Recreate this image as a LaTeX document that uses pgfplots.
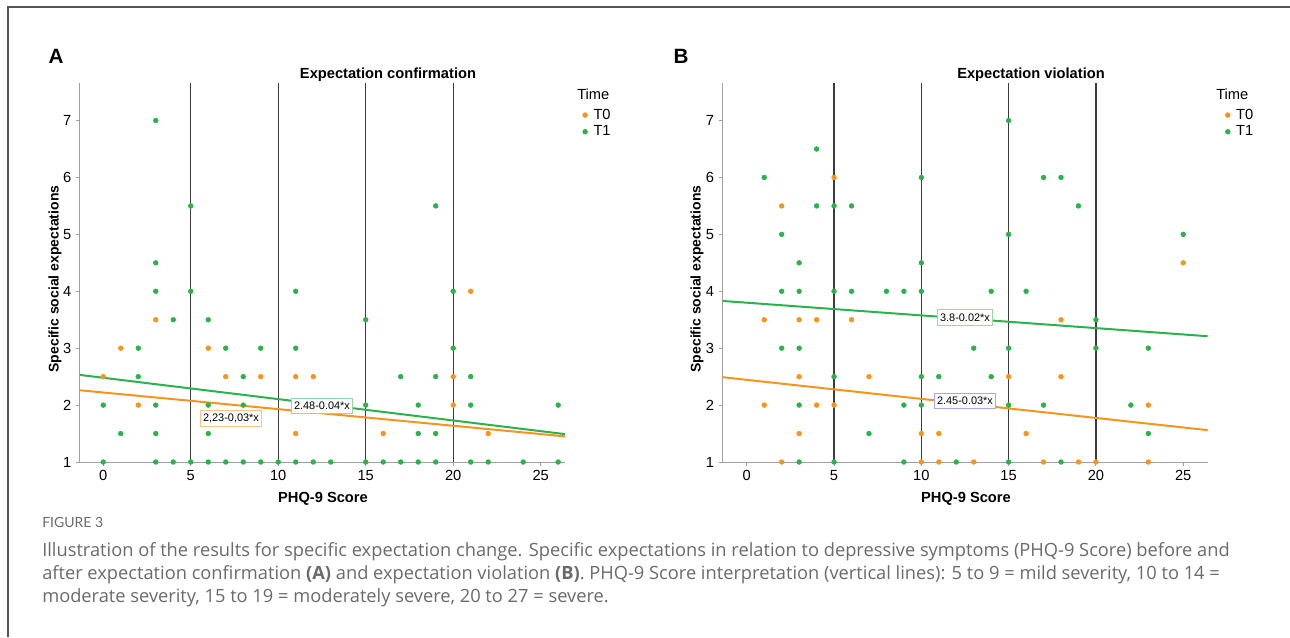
\documentclass[border=0pt]{standalone}
\usepackage{fontspec}
\setmainfont{Liberation Sans}
\newfontfamily\capfont{Open Sans}
\newfontfamily\figfont{Lato}
\usepackage{pgfplots}
\usepackage{pgfplotstable}
\pgfplotsset{compat=1.18}
\definecolor{spssorange}{HTML}{F7941D}
\definecolor{spssgreen}{HTML}{2BB24C}
\definecolor{axgray}{HTML}{A0A0A0}
\definecolor{refline}{HTML}{3C3C3C}
\definecolor{capgray}{HTML}{6A6A6A}
\definecolor{frame}{HTML}{555555}

% panel A: expectation confirmation
\pgfplotstableread{
x y
0 2.5
1 3
2 2
3 3.5
6 3
7 2.5
9 2.5
11 2.5
11 1.5
12 2.5
16 1.5
20 2.5
20 2
21 4
22 1.5
}\confzero
\pgfplotstableread{
x y
0 2
0 1
1 1.5
2 3
2 2.5
3 7
3 4.5
3 4
3 2
3 1.5
3 1
4 3.5
4 1
5 5.5
5 4
5 1
6 3.5
6 2
6 1.5
6 1
7 3
7 1
8 2.5
8 2
8 1
9 3
9 1
10 1
11 4
11 3
11 1
12 1
13 1
15 3.5
15 2
15 1
16 1
17 2.5
17 1
18 2
18 1.5
18 1
19 5.5
19 2.5
19 1.5
19 1
20 4
20 3
21 2.5
21 2
21 1
22 1
24 1
26 2
26 1
}\confone
% panel B: expectation violation
\pgfplotstableread{
x y
1 3.5
1 2
2 5.5
2 1
3 3.5
3 2.5
3 1.5
4 3.5
4 2
5 6
5 2
6 3.5
7 2.5
10 1.5
10 1
11 1.5
11 1
13 1
15 2.5
16 1.5
17 1
18 3.5
18 2.5
19 1
20 1
23 2
23 1
25 4.5
}\violzero
\pgfplotstableread{
x y
1 6
2 5
2 4
2 3
3 4.5
3 4
3 3
3 2
3 1
4 6.5
4 5.5
5 5.5
5 4
5 2.5
5 1
6 5.5
6 4
7 1.5
8 4
9 4
9 2
9 1
10 6
10 4.5
10 4
10 2.5
10 2
11 2.5
12 1
13 3
14 4
14 2.5
15 7
15 5
15 3
15 2
15 1
16 4
17 6
17 2
18 6
18 1
19 5.5
20 3.5
20 3
22 2
23 3
23 1.5
25 5
}\violone

\pgfplotsset{
  panel/.style={
    scale only axis, width=363.75pt, height=284.25pt,
    ymin=1, ymax=7.66,
    axis x line*=bottom, axis y line*=left,
    axis line style={draw=axgray, line width=0.75pt},
    xtick={0,5,...,25}, ytick={1,...,7},
    tick align=outside, major tick length=3pt,
    tick style={draw=axgray, line width=0.75pt},
    tick label style={font=\fontsize{11}{13}\selectfont},
    /pgf/number format/assume math mode=true,
    clip=false,
    legend cell align=left,
    legend style={draw=none, fill=none, inner sep=0pt, anchor=north west,
      font=\fontsize{11}{13}\selectfont, row sep=2.4pt, column sep=4pt,
      nodes={inner xsep=0.5pt, inner ysep=0.5pt}},
  },
  dots/.style={only marks, mark=*, mark size=1.8pt, color=#1,
    mark options={draw=#1, fill=#1},
    legend image code/.code={\draw[##1] plot coordinates {(0pt,0pt)};}},
  vline/.style={refline, line width=0.9pt, forget plot},
  fit/.style={#1, line width=1.5pt, forget plot},
}
\tikzset{
  eq/.style={draw=#1, fill=white, line width=0.6pt, inner xsep=2pt, inner ysep=2.8pt,
    font=\fontsize{8.2}{9}\selectfont},
}

\begin{document}
\begin{tikzpicture}
\useasboundingbox (0,0) rectangle (967.5pt,477.75pt);
\draw[frame, line width=1pt] (6pt,0pt) -- (6pt,472.5pt) -- (967.5pt,472.5pt);

% ---- panel A
\begin{axis}[panel, at={(60pt,131.25pt)}, xmin=-1.33, xmax=26.39,
  legend style={at={(1.036,0.934)}}]
\addplot[dots=spssorange] table {\confzero};
\addplot[dots=spssgreen] table {\confone};
\addplot[vline] coordinates {(5,1) (5,7.66)};
\addplot[vline] coordinates {(10,1) (10,7.66)};
\addplot[vline] coordinates {(15,1) (15,7.66)};
\addplot[vline] coordinates {(20,1) (20,7.66)};
\addplot[fit=spssgreen] coordinates {(-1.33,2.53) (26.39,1.49)};
\addplot[fit=spssorange] coordinates {(-1.33,2.26) (26.39,1.45)};
\node[eq=spssorange!55] at (axis cs:7.3,1.77) {2,23-0,03*x};
\node[eq=spssgreen!50] at (axis cs:12.5,1.98) {2.48-0.04*x};
\legend{T0,T1}
\end{axis}

% ---- panel B
\begin{axis}[panel, at={(542pt,131.25pt)}, xmin=-1.38, xmax=26.4,
  legend style={at={(1.036,0.934)}}]
\addplot[dots=spssorange] table {\violzero};
\addplot[dots=spssgreen] table {\violone};
\addplot[vline] coordinates {(5,1) (5,7.66)};
\addplot[vline] coordinates {(10,1) (10,7.66)};
\addplot[vline] coordinates {(15,1) (15,7.66)};
\addplot[vline] coordinates {(20,1) (20,7.66)};
\addplot[fit=spssgreen] coordinates {(-1.38,3.83) (26.4,3.21)};
\addplot[fit=spssorange] coordinates {(-1.38,2.49) (26.4,1.56)};
\node[eq=spssgreen!50] at (axis cs:12.5,3.54) {3.8-0.02*x};
\node[eq=blue!35] at (axis cs:12.5,2.08) {2.45-0.03*x};
\legend{T0,T1}
\end{axis}

% panel letters, titles and labels
\node[font=\fontsize{15.5}{18}\selectfont\bfseries] at (42pt,435.75pt) {A};
\node[font=\fontsize{15.5}{18}\selectfont\bfseries] at (510.75pt,435.75pt) {B};
\node[font=\fontsize{11}{13}\selectfont\bfseries] at (291pt,421.5pt) {Expectation confirmation};
\node[font=\fontsize{11}{13}\selectfont\bfseries] at (773.25pt,421.5pt) {Expectation violation};
\node[font=\fontsize{10.5}{12}\selectfont\bfseries, rotate=90] at (41.25pt,268.5pt) {Specific social expectations};
\node[font=\fontsize{10.5}{12}\selectfont\bfseries, rotate=90] at (522.75pt,268.5pt) {Specific social expectations};
\node[font=\fontsize{11}{13}\selectfont\bfseries] at (242.25pt,103.5pt) {PHQ-9 Score};
\node[font=\fontsize{11}{13}\selectfont\bfseries] at (724.5pt,103.5pt) {PHQ-9 Score};
\node[font=\fontsize{11}{13}\selectfont, anchor=west, inner sep=0pt] at (432.75pt,407.25pt) {Time};
\node[font=\fontsize{11}{13}\selectfont, anchor=west, inner sep=0pt] at (912pt,407.25pt) {Time};

% caption
\begin{scope}[capgray, font=\capfont\fontsize{13.7}{15}\selectfont]
\node[anchor=base west, inner sep=0pt, font=\figfont\fontsize{10.5}{12}\selectfont] at (31.5pt,82.5pt) {FIGURE 3};
\node[anchor=base west, inner sep=0pt] at (31.5pt,60.75pt) {Illustration of the results for specific expectation change. Specific expectations in relation to depressive symptoms (PHQ-9 Score) before and};
\node[anchor=base west, inner sep=0pt] at (31.5pt,43.5pt) {after expectation confirmation \textbf{(A)} and expectation violation \textbf{(B)}. PHQ-9 Score interpretation (vertical lines): 5 to 9 = mild severity, 10 to 14 =};
\node[anchor=base west, inner sep=0pt] at (31.5pt,26.25pt) {moderate severity, 15 to 19 = moderately severe, 20 to 27 = severe.};
\end{scope}
\end{tikzpicture}
\end{document}
